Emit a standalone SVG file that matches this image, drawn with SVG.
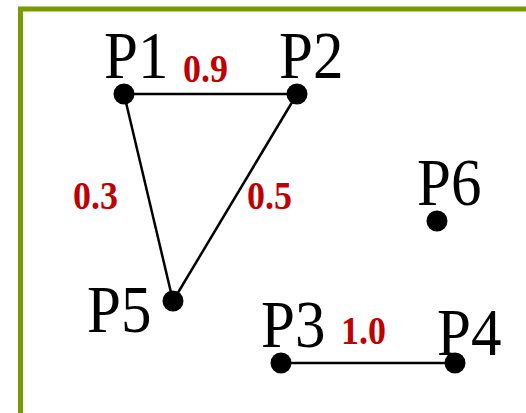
<svg xmlns="http://www.w3.org/2000/svg" width="526" height="413" viewBox="0 0 526 413">
<style>
.lbl{font-family:"Liberation Serif","Times New Roman",serif;font-size:61px;fill:#000}
.w{font-family:"Liberation Serif","Times New Roman",serif;font-size:36px;font-weight:bold;fill:#c00000}
.e{stroke:#000;stroke-width:2.5;fill:none}
.dot{fill:#000}
</style>
<rect x="0" y="0" width="526" height="413" fill="#fff"/>
<rect x="20.5" y="9" width="600" height="500" fill="none" stroke="#769c00" stroke-width="5"/>
<g id="connectors">
<line class="e" x1="124" y1="94" x2="297" y2="94"/>
<line class="e" x1="124" y1="94" x2="173" y2="301"/>
<line class="e" x1="297" y1="94" x2="173" y2="301"/>
<line class="e" x1="281" y1="363" x2="455" y2="363"/>
<text class="w" transform="translate(183,82) scale(1,1.1)">0.9</text>
<text class="w" transform="translate(73,209) scale(1,1.1)">0.3</text>
<text class="w" transform="translate(247,209) scale(1,1.1)">0.5</text>
<text class="w" transform="translate(341,344) scale(1,1.1)">1.0</text>
</g>
<g id="P1"><circle class="dot" cx="124" cy="94" r="10.5"/><text class="lbl" transform="translate(104,78) scale(1,1.1)">P1</text></g>
<g id="P2"><circle class="dot" cx="297" cy="94" r="10.5"/><text class="lbl" transform="translate(279,78) scale(1,1.1)">P2</text></g>
<g id="P3"><circle class="dot" cx="281" cy="363" r="10.5"/><text class="lbl" transform="translate(261,347) scale(1,1.1)">P3</text></g>
<g id="P4"><circle class="dot" cx="455" cy="363" r="10.5"/><text class="lbl" transform="translate(437,355) scale(1,1.1)">P4</text></g>
<g id="P5"><circle class="dot" cx="173" cy="301" r="10.5"/><text class="lbl" transform="translate(87,332) scale(1,1.1)">P5</text></g>
<g id="P6"><circle class="dot" cx="437" cy="221" r="10.5"/><text class="lbl" transform="translate(417,205) scale(1,1.1)">P6</text></g>
</svg>
